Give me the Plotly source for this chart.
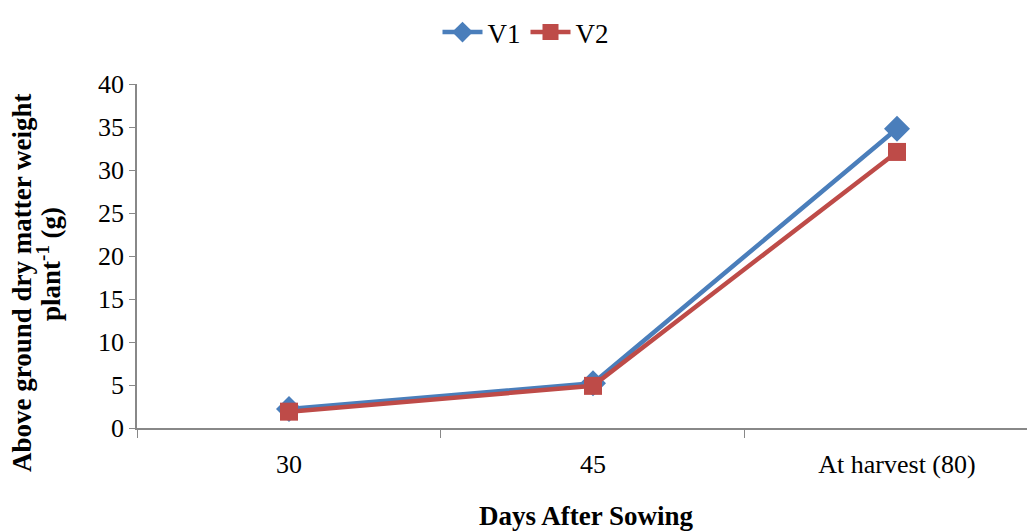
import plotly.graph_objects as go

categories = ["30", "45", "At harvest (80)"]
v1 = [2.2, 5.2, 34.8]
v2 = [1.9, 4.9, 32.1]
y_ticks = [0, 5, 10, 15, 20, 25, 30, 35, 40]
y_title_lines = ["<b>Above ground dry matter weight</b>", "<b>plant<sup>-1</sup> (g)</b>"]

fig = go.Figure()
fig.add_trace(go.Scatter(x=categories, y=v1, name="V1", mode="lines+markers",
                         line=dict(color="#4A7EBB", width=4.5),
                         marker=dict(symbol="diamond", size=20, color="#4A7EBB")))
fig.add_trace(go.Scatter(x=categories, y=v2, name="V2", mode="lines+markers",
                         line=dict(color="#BE4B48", width=4.5),
                         marker=dict(symbol="square", size=18, color="#BE4B48")))

serif = "Liberation Serif, Times New Roman, serif"
fig.update_layout(
    width=1035, height=531,
    margin=dict(l=129, r=8, t=76, b=111, autoexpand=False),
    paper_bgcolor="white", plot_bgcolor="white",
    font=dict(family=serif, size=27, color="black"),
    showlegend=True,
    legend=dict(orientation="h", x=0.50, xanchor="center", y=1.0, yanchor="top",
                yref="container", xref="container", font=dict(size=27),
                tracegroupgap=0, itemwidth=40),
    xaxis=dict(type="category", range=[-0.5, 2.454], showgrid=False, automargin=False,
               showline=True, linecolor="#888888", linewidth=1.5,
               ticks="outside", tickson="boundaries", ticklen=8, tickcolor="#888888",
               ticklabelstandoff=12,
               tickfont=dict(size=26),
               title=dict(text="<b>Days After Sowing</b>", font=dict(size=27), standoff=28)),
    yaxis=dict(range=[0, 40], tickvals=y_ticks, showgrid=False, zeroline=False, automargin=False,
               showline=True, linecolor="#888888", linewidth=1.5,
               ticks="outside", ticklen=6, tickcolor="#888888",
               tickfont=dict(size=26)),
)
for text, xs, yp in zip(y_title_lines, [-115, -88], [0.4215, 0.477]):
    fig.add_annotation(text=text, xref="paper", yref="paper", x=0, y=yp, xshift=xs,
                       xanchor="center", yanchor="middle", textangle=-90,
                       showarrow=False, font=dict(size=27, family=serif, color="black"))

fig.write_html("out.html")
